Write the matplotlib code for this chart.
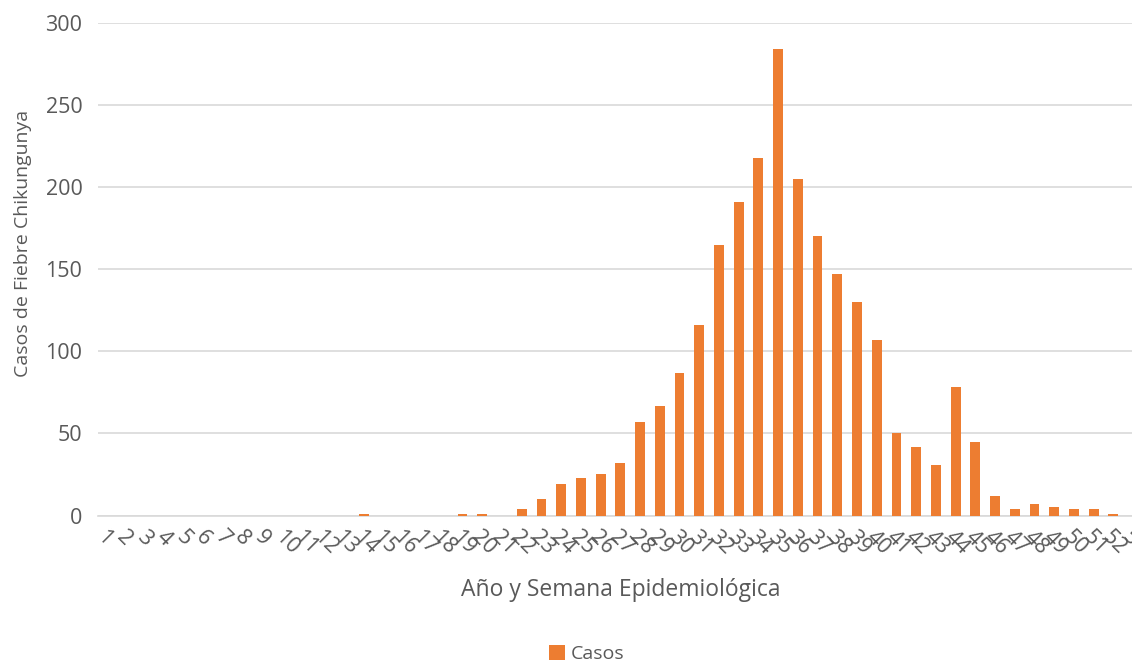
import numpy as np
import matplotlib
matplotlib.use('Agg')
import matplotlib.pyplot as plt

# Weekly chikungunya cases by epidemiological week
weeks = [str(w) for w in range(1, 54)]
cases = [0, 0, 0, 0, 0, 0, 0, 0, 0, 0,
         0, 0, 0, 1, 0, 0, 0, 0, 1, 1,
         0, 4, 10, 19, 23, 25, 32, 57, 67, 87,
         116, 165, 191, 218, 284, 205, 170, 147, 130, 107,
         50, 42, 31, 78, 45, 12, 4, 7, 5, 4,
         4, 1, 0]

BAR_COLOR = '#ED7D31'
TEXT_COLOR = '#595959'
GRID_COLOR = '#D9D9D9'

plt.rcParams['font.family'] = ['Open Sans', 'DejaVu Sans']

fig = plt.figure(figsize=(11.32, 6.64), dpi=100)
# plot area runs slightly past the right edge of the figure
ax = fig.add_axes([0.0863, 0.2236, 0.9234, 0.7418])

x = np.arange(len(weeks))
ax.bar(x, cases, width=0.5, color=BAR_COLOR, label='Casos', zorder=3)

ax.set_xlim(-0.5, len(weeks) - 0.5)
ax.set_ylim(0, 300)
ax.set_yticks(np.arange(0, 301, 50))
ax.set_xticks(x)
ax.set_xticklabels(weeks, rotation=-45, ha='left', va='top', rotation_mode='anchor')

ax.grid(axis='y', color=GRID_COLOR, linewidth=1.2, zorder=0)
for side in ['top', 'right', 'left']:
    ax.spines[side].set_visible(False)
ax.spines['bottom'].set_color(GRID_COLOR)
ax.spines['bottom'].set_linewidth(1.2)
ax.tick_params(axis='both', length=0, colors=TEXT_COLOR, labelsize=15.5)
ax.tick_params(axis='y', pad=11)
ax.tick_params(axis='x', pad=8)

ax.set_xlabel('Año y Semana Epidemiológica', color=TEXT_COLOR, fontsize=16.5, labelpad=14)
ax.set_ylabel('Casos de Fiebre Chikungunya', color=TEXT_COLOR, fontsize=14)
ax.yaxis.set_label_coords(-0.063, 0.553)

fig.legend(loc='center', bbox_to_anchor=(587 / 1132, 1 - 654 / 664), frameon=False,
           fontsize=14, labelcolor=TEXT_COLOR, handlelength=0.8, handleheight=0.8,
           handletextpad=0.3)

fig.savefig('out.png', dpi=100)
